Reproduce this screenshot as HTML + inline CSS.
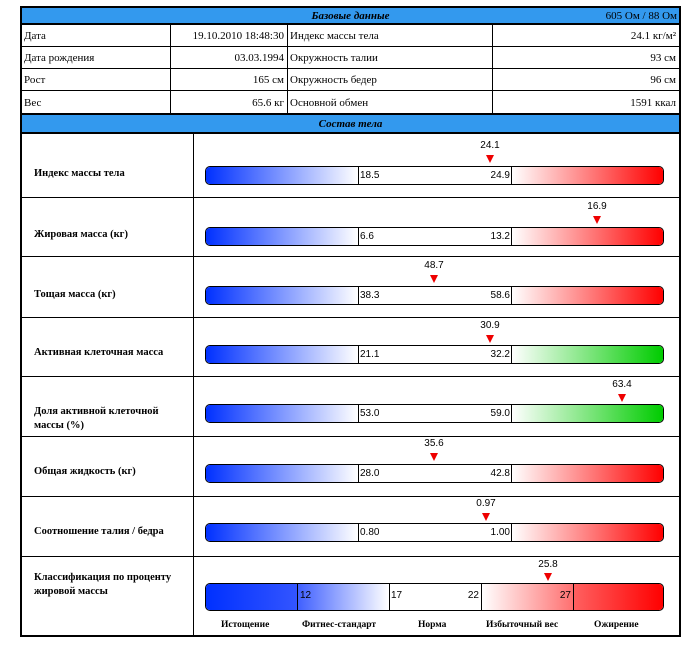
<!DOCTYPE html><html><head><meta charset="utf-8"><style>
*{margin:0;padding:0;box-sizing:border-box}
body{width:700px;height:653px;background:#fff;position:relative;font-family:"Liberation Serif",serif;font-size:11px;color:#000;overflow:hidden}
.a{position:absolute}
.hd{background:#3399ee;border-bottom:2px solid #000;text-align:center;font-weight:bold;font-style:italic;font-size:11px;line-height:16px}
.ln{background:#000}
.t{position:absolute;line-height:14px;white-space:nowrap}
.r{text-align:right}
.bar{position:absolute;left:205px;width:459px;height:19px;border:1px solid #000;border-radius:5px;overflow:hidden;display:flex}
.bar div{height:100%;font-family:"Liberation Sans",sans-serif;font-size:10px;line-height:17px;position:relative}
.lab{position:absolute;left:34px;font-weight:bold;font-size:10.5px;line-height:14px}
.v{position:absolute;font-family:"Liberation Sans",sans-serif;font-size:10px;width:40px;text-align:center}
.tri{position:absolute;width:0;height:0;border-left:4px solid transparent;border-right:4px solid transparent;border-top:8px solid #e00}
</style></head><body>
<div class="a" style="left:20px;top:6px;width:661px;height:631px;border:2px solid #000"></div>
<div class="a hd" style="left:22px;top:8px;width:657px;height:17px">Базовые данные</div>
<div class="t r" style="left:560px;width:117px;top:9px;font-size:11px">605 Ом / 88 Ом</div>
<div class="a ln" style="left:22px;top:46px;width:657px;height:1px"></div>
<div class="a ln" style="left:22px;top:68px;width:657px;height:1px"></div>
<div class="a ln" style="left:22px;top:90px;width:657px;height:1px"></div>
<div class="a ln" style="left:22px;top:113px;width:657px;height:2px"></div>
<div class="a ln" style="left:170px;top:25px;width:1px;height:88px"></div>
<div class="a ln" style="left:287px;top:25px;width:1px;height:88px"></div>
<div class="a ln" style="left:492px;top:25px;width:1px;height:88px"></div>
<div class="t" style="left:24px;top:29px">Дата</div>
<div class="t" style="left:24px;top:51px">Дата рождения</div>
<div class="t" style="left:24px;top:73px">Рост</div>
<div class="t" style="left:24px;top:96px">Вес</div>
<div class="t r" style="left:170px;width:114px;top:29px">19.10.2010 18:48:30</div>
<div class="t r" style="left:170px;width:114px;top:51px">03.03.1994</div>
<div class="t r" style="left:170px;width:114px;top:73px">165 см</div>
<div class="t r" style="left:170px;width:114px;top:96px">65.6 кг</div>
<div class="t" style="left:290px;top:29px">Индекс массы тела</div>
<div class="t" style="left:290px;top:51px">Окружность талии</div>
<div class="t" style="left:290px;top:73px">Окружность бедер</div>
<div class="t" style="left:290px;top:96px">Основной обмен</div>
<div class="t r" style="left:492px;width:184px;top:29px">24.1 кг/м²</div>
<div class="t r" style="left:492px;width:184px;top:51px">93 см</div>
<div class="t r" style="left:492px;width:184px;top:73px">96 см</div>
<div class="t r" style="left:492px;width:184px;top:96px">1591 ккал</div>
<div class="a hd" style="left:22px;top:115px;width:657px;height:19px;line-height:18px">Состав тела</div>
<div class="a ln" style="left:193px;top:134px;width:1px;height:502px"></div>
<div class="a ln" style="left:22px;top:197px;width:657px;height:1px"></div>
<div class="a ln" style="left:22px;top:256px;width:657px;height:1px"></div>
<div class="a ln" style="left:22px;top:317px;width:657px;height:1px"></div>
<div class="a ln" style="left:22px;top:376px;width:657px;height:1px"></div>
<div class="a ln" style="left:22px;top:436px;width:657px;height:1px"></div>
<div class="a ln" style="left:22px;top:496px;width:657px;height:1px"></div>
<div class="a ln" style="left:22px;top:556px;width:657px;height:1px"></div>

<div class="lab" style="top:167px">Индекс массы тела</div>
<div class="lab" style="top:228px">Жировая масса (кг)</div>
<div class="lab" style="top:288px">Тощая масса (кг)</div>
<div class="lab" style="top:346px">Активная клеточная масса</div>
<div class="lab" style="top:405px">Доля активной клеточной<br>массы (%)</div>
<div class="lab" style="top:465px">Общая жидкость (кг)</div>
<div class="lab" style="top:525px">Соотношение талия / бедра</div>
<div class="lab" style="top:571px">Классификация по проценту<br>жировой массы</div>

<div class="bar" style="top:166px"><div style="width:152px;background:linear-gradient(90deg,#0030ff,#fff)"></div><div style="width:154px;border-left:1px solid #000;border-right:1px solid #000;background:#fff"><span style="position:absolute;left:1px">18.5</span><span style="position:absolute;right:1px">24.9</span></div><div style="flex:1;background:linear-gradient(90deg,#fff,#ff0000)"></div></div>
<div class="bar" style="top:227px"><div style="width:152px;background:linear-gradient(90deg,#0030ff,#fff)"></div><div style="width:154px;border-left:1px solid #000;border-right:1px solid #000;background:#fff"><span style="position:absolute;left:1px">6.6</span><span style="position:absolute;right:1px">13.2</span></div><div style="flex:1;background:linear-gradient(90deg,#fff,#ff0000)"></div></div>
<div class="bar" style="top:286px"><div style="width:152px;background:linear-gradient(90deg,#0030ff,#fff)"></div><div style="width:154px;border-left:1px solid #000;border-right:1px solid #000;background:#fff"><span style="position:absolute;left:1px">38.3</span><span style="position:absolute;right:1px">58.6</span></div><div style="flex:1;background:linear-gradient(90deg,#fff,#ff0000)"></div></div>
<div class="bar" style="top:345px"><div style="width:152px;background:linear-gradient(90deg,#0030ff,#fff)"></div><div style="width:154px;border-left:1px solid #000;border-right:1px solid #000;background:#fff"><span style="position:absolute;left:1px">21.1</span><span style="position:absolute;right:1px">32.2</span></div><div style="flex:1;background:linear-gradient(90deg,#fff,#00cc00)"></div></div>
<div class="bar" style="top:404px"><div style="width:152px;background:linear-gradient(90deg,#0030ff,#fff)"></div><div style="width:154px;border-left:1px solid #000;border-right:1px solid #000;background:#fff"><span style="position:absolute;left:1px">53.0</span><span style="position:absolute;right:1px">59.0</span></div><div style="flex:1;background:linear-gradient(90deg,#fff,#00cc00)"></div></div>
<div class="bar" style="top:464px"><div style="width:152px;background:linear-gradient(90deg,#0030ff,#fff)"></div><div style="width:154px;border-left:1px solid #000;border-right:1px solid #000;background:#fff"><span style="position:absolute;left:1px">28.0</span><span style="position:absolute;right:1px">42.8</span></div><div style="flex:1;background:linear-gradient(90deg,#fff,#ff0000)"></div></div>
<div class="bar" style="top:523px"><div style="width:152px;background:linear-gradient(90deg,#0030ff,#fff)"></div><div style="width:154px;border-left:1px solid #000;border-right:1px solid #000;background:#fff"><span style="position:absolute;left:1px">0.80</span><span style="position:absolute;right:1px">1.00</span></div><div style="flex:1;background:linear-gradient(90deg,#fff,#ff0000)"></div></div>
<div class="bar" style="top:583px;height:28px"><div style="width:91px;background:linear-gradient(90deg,#0030ff,#3355ff)"></div><div style="width:92px;border-left:1px solid #000;background:linear-gradient(90deg,#4060ff,#fff);line-height:24px"><span style="position:absolute;left:2px">12</span></div><div style="width:92px;border-left:1px solid #000;background:#fff;line-height:24px"><span style="position:absolute;left:1px">17</span><span style="position:absolute;right:2px">22</span></div><div style="width:92px;border-left:1px solid #000;background:linear-gradient(90deg,#fff,#ff7070);line-height:24px"><span style="position:absolute;right:2px">27</span></div><div style="flex:1;border-left:1px solid #000;background:linear-gradient(90deg,#ff6060,#ff0000)"></div></div>
<div class="t" style="left:221px;top:618px;font-weight:bold;font-size:9.5px">Истощение</div>
<div class="t" style="left:302px;top:618px;font-weight:bold;font-size:9.5px">Фитнес-стандарт</div>
<div class="t" style="left:418px;top:618px;font-weight:bold;font-size:9.5px">Норма</div>
<div class="t" style="left:486px;top:618px;font-weight:bold;font-size:9.5px">Избыточный вес</div>
<div class="t" style="left:594px;top:618px;font-weight:bold;font-size:9.5px">Ожирение</div>

<div class="v" style="left:470px;top:140px">24.1</div><div class="tri" style="left:486px;top:155px"></div>
<div class="v" style="left:577px;top:201px">16.9</div><div class="tri" style="left:593px;top:216px"></div>
<div class="v" style="left:414px;top:260px">48.7</div><div class="tri" style="left:430px;top:275px"></div>
<div class="v" style="left:470px;top:320px">30.9</div><div class="tri" style="left:486px;top:335px"></div>
<div class="v" style="left:602px;top:379px">63.4</div><div class="tri" style="left:618px;top:394px"></div>
<div class="v" style="left:414px;top:438px">35.6</div><div class="tri" style="left:430px;top:453px"></div>
<div class="v" style="left:466px;top:498px">0.97</div><div class="tri" style="left:482px;top:513px"></div>
<div class="v" style="left:528px;top:559px">25.8</div><div class="tri" style="left:544px;top:573px"></div>
</body></html>
